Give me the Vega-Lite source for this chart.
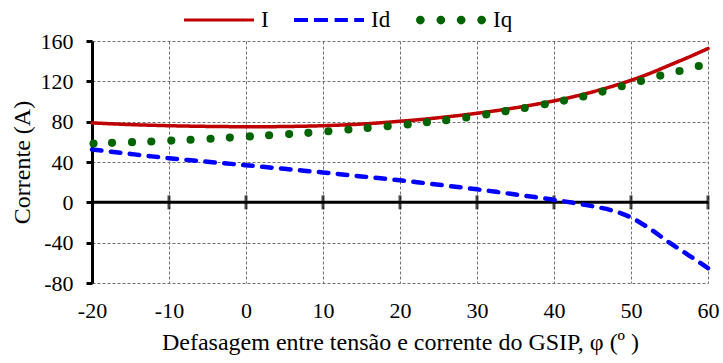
{
  "$schema": "https://vega.github.io/schema/vega-lite/v6.json",
  "width": 616,
  "height": 242,
  "autosize": {"type": "none"},
  "padding": {"left": 92, "top": 41, "right": 15, "bottom": 80},
  "background": "white",
  "config": {
    "view": {"stroke": null},
    "font": "Liberation Serif, serif",
    "axis": {
      "gridColor": "#707070",
      "gridDash": [3, 2],
      "gridWidth": 1,
      "gridOpacity": 1,
      "labelFlush": false,
      "labelFont": "Liberation Serif, serif",
      "titleFont": "Liberation Serif, serif"
    }
  },
  "datasets": {
    "lines": [
      {"phi": -20, "value": 78.8, "series": "I"},
      {"phi": -17.5, "value": 77.9, "series": "I"},
      {"phi": -15, "value": 77.1, "series": "I"},
      {"phi": -12.5, "value": 76.5, "series": "I"},
      {"phi": -10, "value": 76.0, "series": "I"},
      {"phi": -7.5, "value": 75.6, "series": "I"},
      {"phi": -5, "value": 75.3, "series": "I"},
      {"phi": -2.5, "value": 75.1, "series": "I"},
      {"phi": 0, "value": 75.0, "series": "I"},
      {"phi": 2.5, "value": 75.0, "series": "I"},
      {"phi": 5, "value": 75.2, "series": "I"},
      {"phi": 7.5, "value": 75.5, "series": "I"},
      {"phi": 10, "value": 76.0, "series": "I"},
      {"phi": 12.5, "value": 76.7, "series": "I"},
      {"phi": 15, "value": 77.6, "series": "I"},
      {"phi": 17.5, "value": 78.9, "series": "I"},
      {"phi": 20, "value": 80.4, "series": "I"},
      {"phi": 22.5, "value": 82.0, "series": "I"},
      {"phi": 25, "value": 83.9, "series": "I"},
      {"phi": 27.5, "value": 86.0, "series": "I"},
      {"phi": 30, "value": 88.3, "series": "I"},
      {"phi": 32.5, "value": 90.9, "series": "I"},
      {"phi": 35, "value": 93.8, "series": "I"},
      {"phi": 37.5, "value": 97.0, "series": "I"},
      {"phi": 40, "value": 100.6, "series": "I"},
      {"phi": 42.5, "value": 104.7, "series": "I"},
      {"phi": 45, "value": 109.5, "series": "I"},
      {"phi": 47.5, "value": 114.9, "series": "I"},
      {"phi": 50, "value": 121.0, "series": "I"},
      {"phi": 52.5, "value": 128.0, "series": "I"},
      {"phi": 55, "value": 136.0, "series": "I"},
      {"phi": 57.5, "value": 144.0, "series": "I"},
      {"phi": 60, "value": 152.5, "series": "I"},
      {"phi": -20, "value": 52.4, "series": "Id"},
      {"phi": -17.5, "value": 50.2, "series": "Id"},
      {"phi": -15, "value": 48.0, "series": "Id"},
      {"phi": -12.5, "value": 45.8, "series": "Id"},
      {"phi": -10, "value": 43.7, "series": "Id"},
      {"phi": -7.5, "value": 41.9, "series": "Id"},
      {"phi": -5, "value": 40.2, "series": "Id"},
      {"phi": -2.5, "value": 38.5, "series": "Id"},
      {"phi": 0, "value": 36.8, "series": "Id"},
      {"phi": 2.5, "value": 35.0, "series": "Id"},
      {"phi": 5, "value": 33.2, "series": "Id"},
      {"phi": 7.5, "value": 31.4, "series": "Id"},
      {"phi": 10, "value": 29.6, "series": "Id"},
      {"phi": 12.5, "value": 27.7, "series": "Id"},
      {"phi": 15, "value": 25.7, "series": "Id"},
      {"phi": 17.5, "value": 23.8, "series": "Id"},
      {"phi": 20, "value": 21.8, "series": "Id"},
      {"phi": 22.5, "value": 19.7, "series": "Id"},
      {"phi": 25, "value": 17.5, "series": "Id"},
      {"phi": 27.5, "value": 15.2, "series": "Id"},
      {"phi": 30, "value": 12.9, "series": "Id"},
      {"phi": 32.5, "value": 10.4, "series": "Id"},
      {"phi": 35, "value": 7.8, "series": "Id"},
      {"phi": 37.5, "value": 5.2, "series": "Id"},
      {"phi": 40, "value": 2.5, "series": "Id"},
      {"phi": 42.5, "value": -0.5, "series": "Id"},
      {"phi": 45, "value": -3.8, "series": "Id"},
      {"phi": 47.5, "value": -8.0, "series": "Id"},
      {"phi": 50, "value": -15.0, "series": "Id"},
      {"phi": 52.5, "value": -26.5, "series": "Id"},
      {"phi": 55, "value": -40.0, "series": "Id"},
      {"phi": 57.5, "value": -52.5, "series": "Id"},
      {"phi": 60, "value": -65.3, "series": "Id"}
    ],
    "iq": [
      {"phi": -19.8, "value": 58.4, "series": "Iq"},
      {"phi": -17.4, "value": 59.0, "series": "Iq"},
      {"phi": -14.8, "value": 59.7, "series": "Iq"},
      {"phi": -12.3, "value": 60.3, "series": "Iq"},
      {"phi": -9.7, "value": 61.2, "series": "Iq"},
      {"phi": -7.2, "value": 62.1, "series": "Iq"},
      {"phi": -4.6, "value": 63.1, "series": "Iq"},
      {"phi": -2.1, "value": 64.2, "series": "Iq"},
      {"phi": 0.5, "value": 65.4, "series": "Iq"},
      {"phi": 3.0, "value": 66.5, "series": "Iq"},
      {"phi": 5.6, "value": 67.7, "series": "Iq"},
      {"phi": 8.1, "value": 68.9, "series": "Iq"},
      {"phi": 10.7, "value": 70.5, "series": "Iq"},
      {"phi": 13.3, "value": 72.2, "series": "Iq"},
      {"phi": 15.8, "value": 73.8, "series": "Iq"},
      {"phi": 18.4, "value": 75.5, "series": "Iq"},
      {"phi": 21.0, "value": 77.3, "series": "Iq"},
      {"phi": 23.5, "value": 79.4, "series": "Iq"},
      {"phi": 26.0, "value": 81.5, "series": "Iq"},
      {"phi": 28.6, "value": 84.1, "series": "Iq"},
      {"phi": 31.2, "value": 87.2, "series": "Iq"},
      {"phi": 33.7, "value": 90.4, "series": "Iq"},
      {"phi": 36.2, "value": 93.6, "series": "Iq"},
      {"phi": 38.8, "value": 97.3, "series": "Iq"},
      {"phi": 41.3, "value": 100.9, "series": "Iq"},
      {"phi": 43.8, "value": 104.9, "series": "Iq"},
      {"phi": 46.3, "value": 109.8, "series": "Iq"},
      {"phi": 48.8, "value": 115.1, "series": "Iq"},
      {"phi": 51.3, "value": 120.3, "series": "Iq"},
      {"phi": 53.8, "value": 125.7, "series": "Iq"},
      {"phi": 56.3, "value": 130.2, "series": "Iq"},
      {"phi": 58.8, "value": 135.2, "series": "Iq"}
    ],
    "zeroline": [{"value": 0}],
    "zeroticks": [
      {"phi": -10, "value": 0},
      {"phi": 0, "value": 0},
      {"phi": 10, "value": 0},
      {"phi": 20, "value": 0},
      {"phi": 30, "value": 0},
      {"phi": 40, "value": 0},
      {"phi": 50, "value": 0},
      {"phi": 60, "value": 0}
    ]
  },
  "layer": [
    {
      "data": {"name": "lines"},
      "mark": {"type": "line", "opacity": 0},
      "encoding": {
        "x": {
          "field": "phi",
          "type": "quantitative",
          "scale": {"domain": [-20, 60], "nice": false, "zero": false},
          "axis": {
            "values": [-20, -15, -10, -5, 0, 5, 10, 15, 20, 25, 30, 35, 40, 45, 50, 55, 60],
            "labelExpr": "datum.value % 10 === 0 ? '' + datum.value : ''",
            "labelOverlap": false,
            "labelFlush": false,
            "labelFontSize": 22,
            "labelColor": "black",
            "ticks": false,
            "domain": false,
            "grid": true,
            "labelPadding": 17,
            "title": "Defasagem entre tensão e corrente do GSIP, φ (º )",
            "titleFontSize": 24,
            "titleFontWeight": "normal",
            "titleColor": "black",
            "titlePadding": 9
          }
        },
        "y": {
          "field": "value",
          "type": "quantitative",
          "scale": {"domain": [-80, 160], "nice": false, "zero": false},
          "axis": {
            "values": [-80, -60, -40, -20, 0, 20, 40, 60, 80, 100, 120, 140, 160],
            "labelExpr": "datum.value % 40 === 0 ? '' + datum.value : ''",
            "labelOverlap": false,
            "labelFlush": false,
            "labelFontSize": 22,
            "labelColor": "black",
            "grid": true,
            "domainColor": "black",
            "domainWidth": 3,
            "tickColor": "black",
            "tickWidth": 3,
            "tickSize": 6,
            "tickOpacity": {"condition": {"test": "datum.value % 40 === 0", "value": 1}, "value": 0},
            "labelPadding": 13,
            "title": "Corrente (A)",
            "titleFontSize": 24,
            "titleFontWeight": "normal",
            "titleColor": "black",
            "titlePadding": 6
          }
        }
      }
    },
    {
      "data": {"name": "zeroline"},
      "mark": {"type": "rule", "color": "black", "strokeWidth": 3},
      "encoding": {
        "y": {"field": "value", "type": "quantitative"}
      }
    },
    {
      "data": {"name": "zeroticks"},
      "mark": {"type": "tick", "orient": "vertical", "size": 14, "thickness": 3, "color": "black"},
      "encoding": {
        "x": {"field": "phi", "type": "quantitative"},
        "y": {"field": "value", "type": "quantitative"}
      }
    },
    {
      "data": {"name": "lines"},
      "mark": {"type": "line", "strokeCap": "round", "interpolate": "monotone"},
      "encoding": {
        "x": {"field": "phi", "type": "quantitative"},
        "y": {"field": "value", "type": "quantitative"},
        "color": {
          "field": "series",
          "type": "nominal",
          "scale": {"domain": ["I", "Id", "Iq"], "range": ["#C00000", "#0000FF", "#006400"]},
          "legend": {
            "orient": "none",
            "legendX": 92,
            "legendY": -56,
            "direction": "horizontal",
            "title": null,
            "padding": 0,
            "symbolSize": 4900,
            "symbolStrokeWidth": 0,
            "labelFont": "Liberation Serif",
            "labelFontSize": 23,
            "labelColor": "black",
            "labelOffset": 7,
            "columnPadding": 25,
            "encode": {
              "symbols": {
                "update": {
                  "shape": {"signal": "datum.value === 'I' ? 'M-1,-0.045L1,-0.045L1,0.045L-1,0.045Z' : datum.value === 'Id' ? 'M-1,-0.06L-0.6,-0.06L-0.6,0.06L-1,0.06Z M-0.43,-0.06L-0.03,-0.06L-0.03,0.06L-0.43,0.06Z M0.16,-0.06L0.54,-0.06L0.54,0.06L0.16,0.06Z M0.72,-0.06L1,-0.06L1,0.06L0.72,0.06Z' : 'M-1,0A0.125,0.125 0 1,0 -0.75,0A0.125,0.125 0 1,0 -1,0Z M-0.415,0A0.125,0.125 0 1,0 -0.165,0A0.125,0.125 0 1,0 -0.415,0Z M0.165,0A0.125,0.125 0 1,0 0.415,0A0.125,0.125 0 1,0 0.165,0Z M0.75,0A0.125,0.125 0 1,0 1,0A0.125,0.125 0 1,0 0.75,0Z'"},
                  "fill": {"scale": "color", "field": "value"},
                  "stroke": {"value": "transparent"},
                  "strokeWidth": {"value": 0},
                  "opacity": {"value": 1}
                }
              }
            }
          }
        },
        "strokeDash": {
          "field": "series",
          "type": "nominal",
          "scale": {"domain": ["I", "Id"], "range": [[1, 0], [9.5, 9.5]]},
          "legend": null
        },
        "strokeWidth": {
          "field": "series",
          "type": "nominal",
          "scale": {"domain": ["I", "Id"], "range": [3.5, 4.5]},
          "legend": null
        }
      }
    },
    {
      "data": {"name": "iq"},
      "mark": {"type": "circle", "size": 66, "opacity": 1},
      "encoding": {
        "x": {"field": "phi", "type": "quantitative"},
        "y": {"field": "value", "type": "quantitative"},
        "color": {"field": "series", "type": "nominal"}
      }
    }
  ]
}
